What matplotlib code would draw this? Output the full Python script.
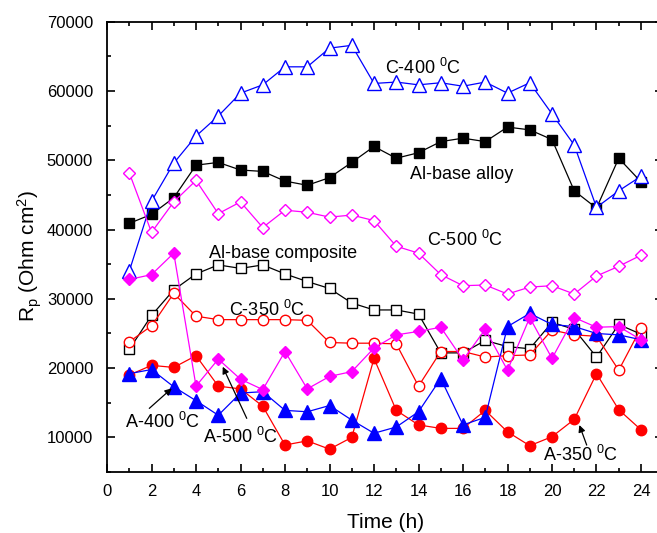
import numpy as np
import matplotlib
matplotlib.use('Agg')
import matplotlib.pyplot as plt
from matplotlib.ticker import MultipleLocator

plt.rcParams['font.family'] = ['Liberation Sans', 'DejaVu Sans']
plt.rcParams['mathtext.default'] = 'regular'

# 数据 (Time, Rp)
t = np.arange(1, 25)
c400 = [34000, 44100, 49600, 53500, 56400, 59700, 60900, 63500, 63500, 66200, 66600, 61100,
        61300, 60900, 61200, 60700, 61300, 59700, 61200, 56700, 52200, 43200, 45600, 47700]
alloy = [40900, 42200, 44600, 49300, 49700, 48600, 48400, 47000, 46400, 47500, 49700, 52000,
         50300, 51100, 52700, 53200, 52700, 54800, 54400, 53000, 45600, 43100, 50300, 46900]
c500 = [48200, 39600, 44000, 47100, 42300, 44000, 40300, 42800, 42500, 41800, 42100, 41300,
        37600, 36600, 33500, 31900, 32000, 30700, 31700, 31900, 30700, 33300, 34700, 36300]
composite = [22700, 27600, 31300, 33600, 34900, 34400, 34900, 33600, 32500, 31500, 29400, 28400,
             28400, 27800, 22200, 22200, 24000, 23100, 22800, 26600, 25600, 21600, 26300, 24900]
c350 = [23800, 26100, 30800, 27500, 27000, 27000, 27000, 27000, 26900, 23700, 23600, 23600,
        23500, 17400, 22400, 22400, 21600, 21800, 21900, 25500, 24800, 24600, 19700, 25800]
a400 = [19200, 19800, 17300, 15300, 13200, 16400, 16600, 13900, 13700, 14600, 12500, 10600,
        11500, 13700, 18500, 11800, 12900, 26000, 27900, 26300, 26000, 25000, 24800, 24100]
a500 = [32800, 33500, 36600, 17400, 21300, 18400, 16900, 22400, 17000, 18800, 19500, 22900,
        24800, 25300, 25900, 21200, 25600, 19700, 27300, 21400, 27300, 25900, 26000, 24100]
a350 = [19000, 20400, 20100, 21800, 17400, 17000, 14500, 8900, 9500, 8300, 10000, 21400,
        13900, 11800, 11300, 11300, 13900, 10800, 8800, 10100, 12600, 19200, 14000, 11100]

fig = plt.figure(figsize=(6.57, 5.33), dpi=100)
ax = fig.add_axes([0.1629, 0.1144, 0.8466, 0.8447])

lw = 0.9
ax.plot(t, alloy, color='black', marker='s', ms=7, lw=lw)
ax.plot(t, composite, color='black', marker='s', ms=7, mfc='white', lw=lw)
ax.plot(t, c350, color='red', marker='o', ms=7.5, mfc='white', lw=lw)
ax.plot(t, c400, color='blue', marker='^', ms=9.5, mfc='white', lw=lw)
ax.plot(t, c500, color='magenta', marker='D', ms=6.5, mfc='white', lw=lw)
ax.plot(t, a350, color='red', marker='o', ms=7.5, lw=lw)
ax.plot(t, a400, color='blue', marker='^', ms=9.5, lw=lw)
ax.plot(t, a500, color='magenta', marker='D', ms=6.5, lw=lw)

# 标注
fs = 13
ax.text(12.5, 63300, 'C-400 $^0$C', fontsize=fs, va='center')
ax.text(13.6, 47900, 'Al-base alloy', fontsize=fs, va='center')
ax.text(14.4, 38500, 'C-500 $^0$C', fontsize=fs, va='center')
ax.text(4.6, 36500, 'Al-base composite', fontsize=fs, va='center')
ax.text(5.5, 28400, 'C-350 $^0$C', fontsize=fs, va='center')
ax.text(0.8, 12200, 'A-400 $^0$C', fontsize=fs, va='center')
ax.text(4.3, 10000, 'A-500 $^0$C', fontsize=fs, va='center')
ax.text(19.6, 7450, 'A-350 $^0$C', fontsize=fs, va='center')

arrow = dict(arrowstyle='-|>', color='black', lw=0.9, mutation_scale=10, shrinkA=0, shrinkB=0)
ax.annotate('', xy=(2.91, 17080), xytext=(1.90, 14190), arrowprops=arrow)
ax.annotate('', xy=(5.20, 20200), xytext=(6.28, 12750), arrowprops=arrow)
ax.annotate('', xy=(21.23, 11780), xytext=(21.56, 8890), arrowprops=arrow)

ax.set_xlim(0, 25)
ax.set_ylim(5000, 70000)
ax.xaxis.set_major_locator(MultipleLocator(2))
ax.xaxis.set_minor_locator(MultipleLocator(1))
ax.yaxis.set_major_locator(MultipleLocator(10000))
ax.yaxis.set_minor_locator(MultipleLocator(5000))
ax.set_xticks(np.arange(0, 25, 2))
ax.tick_params(which='both', direction='in', top=True, right=True, labelsize=12, width=1.2)
ax.tick_params(which='major', length=6)
ax.tick_params(which='minor', length=3)
ax.tick_params(axis='x', which='major', pad=8.5)
ax.tick_params(axis='y', which='major', pad=10)
for s in ax.spines.values():
    s.set_linewidth(1.3)

ax.set_xlabel('Time (h)', fontsize=15)
ax.set_ylabel('R$_p$ (Ohm cm$^2$)', fontsize=15)
ax.xaxis.set_label_coords(0.501, -0.091)
ax.yaxis.set_label_coords(-0.113, 0.48)

fig.savefig('out.png', dpi=100)
